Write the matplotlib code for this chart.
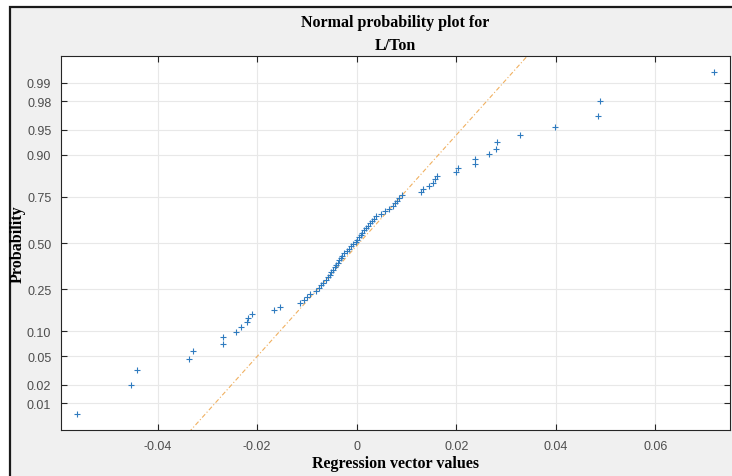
import matplotlib
matplotlib.use("Agg")
import matplotlib.pyplot as plt
from matplotlib.patches import Rectangle
from statistics import NormalDist
import numpy as np

# sorted regression vector values
values = [
    -0.0562, -0.0454, -0.0442, -0.0336, -0.0329, -0.0269, -0.0269, -0.0242,
    -0.0233, -0.0220, -0.0219, -0.0211, -0.0166, -0.0154, -0.0113, -0.0106,
    -0.0100, -0.0094, -0.0082, -0.0076, -0.0072, -0.0067, -0.0062, -0.0058,
    -0.0054, -0.0051, -0.0048, -0.0044, -0.0041, -0.0038, -0.0035, -0.0032,
    -0.0029, -0.0025, -0.0020, -0.0016, -0.0011, -0.0007, -0.0002, 0.0000,
    0.0004, 0.0008, 0.0011, 0.0015, 0.0019, 0.0023, 0.0027, 0.0031,
    0.0035, 0.0039, 0.0048, 0.0056, 0.0064, 0.0073, 0.0077, 0.0081,
    0.0086, 0.0092, 0.0129, 0.0134, 0.0146, 0.0153, 0.0158, 0.0161,
    0.0199, 0.0203, 0.0237, 0.0238, 0.0265, 0.0279, 0.0281, 0.0328,
    0.0399, 0.0485, 0.0489, 0.0718,
]
prob_ticks = [0.01, 0.02, 0.05, 0.10, 0.25, 0.50, 0.75, 0.90, 0.95, 0.98, 0.99]
x_ticks = [-0.04, -0.02, 0, 0.02, 0.04, 0.06]
x_labels = ["-0.04", "-0.02", "0", "0.02", "0.04", "0.06"]

nd = NormalDist()
x = np.sort(np.array(values))
n = len(x)
p = (np.arange(1, n + 1) - 0.5) / n
z = np.array([nd.inv_cdf(v) for v in p])

# reference line through the quartiles (like normplot)
q1, q3 = np.percentile(x, [25, 75], method="hazen")
z1, z3 = nd.inv_cdf(0.25), nd.inv_cdf(0.75)
slope = (z3 - z1) / (q3 - q1)

rng = x.max() - x.min()
xlim = (x.min() - 0.025 * rng, x.max() + 0.025 * rng)
ylim = (nd.inv_cdf(0.25 / n), nd.inv_cdf(1 - 0.25 / n))

serif = ["Liberation Serif", "DejaVu Serif"]
sans = ["Liberation Sans Narrow", "Liberation Sans", "DejaVu Sans"]

fig = plt.figure(figsize=(7.32, 4.77), dpi=100)
fig.patch.set_facecolor("white")
fig.add_artist(Rectangle((10 / 732, -0.05), 1.0, 1 - 8 / 477 + 0.05,
                         transform=fig.transFigure, facecolor="#f0f0f0",
                         edgecolor="#1a1a1a", lw=1.6, zorder=0))

ax = fig.add_axes([61 / 732, (477 - 431.3) / 477, 669 / 732, 374.6 / 477])
ax.set_facecolor("white")

xl = np.array(xlim)
ax.plot(xl, z1 + slope * (xl - q1), linestyle=(0, (4, 2, 1, 2)),
        color="#f0b060", lw=0.8, zorder=2)
ax.plot(x, z, linestyle="none", marker="+", color="#2f7bbf",
        markersize=4, markeredgewidth=0.8, zorder=3)

ax.set_xlim(xlim)
ax.set_ylim(ylim)
ax.set_yticks([nd.inv_cdf(v) for v in prob_ticks])
ax.set_yticklabels(["%.2f" % v for v in prob_ticks])
ax.set_xticks(x_ticks)
ax.set_xticklabels(x_labels)

ax.grid(True, color="#e8e8e8", lw=0.8)
ax.set_axisbelow(True)
for s in ax.spines.values():
    s.set_color("#262626")
    s.set_linewidth(0.8)
ax.tick_params(direction="in", length=4, width=0.8, color="#262626",
               top=True, right=True, labelcolor="#4d4d4d", pad=7)
for lab in ax.get_xticklabels() + ax.get_yticklabels():
    lab.set_family(sans)
    lab.set_fontsize(9)

ax.set_title("Normal probability plot for\nL/Ton", fontsize=11.5,
             fontweight="bold", family=serif, pad=5, linespacing=1.6)
ax.set_xlabel("Regression vector values", fontsize=11.5, fontweight="bold",
              family=serif, labelpad=2)
ax.set_ylabel("Probability", fontsize=11.5, fontweight="bold", family=serif,
              labelpad=0)
ax.yaxis.set_label_coords(-0.053, 0.5)

plt.savefig("out.png", dpi=100, facecolor=fig.get_facecolor())
